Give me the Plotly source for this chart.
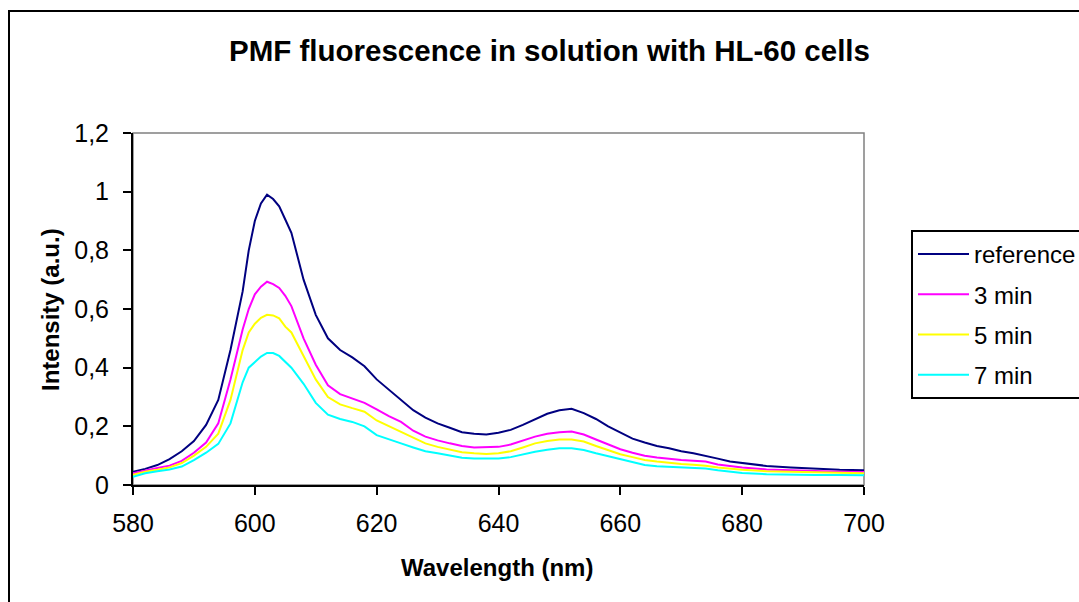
import plotly.graph_objects as go

wavelength = [580, 582, 584, 586, 588, 590, 592, 594, 596, 598, 599, 600, 601, 602, 603, 604, 605, 606,
              608, 610, 612, 614, 616, 618, 620, 622, 624, 626, 628, 630, 632, 634, 636, 638, 640, 642,
              644, 646, 648, 650, 652, 654, 656, 658, 660, 662, 664, 666, 668, 670, 672, 674, 676, 678,
              680, 684, 688, 692, 696, 700]

reference = [.045, .055, .068, .088, .115, .15, .205, .29, .46, .66, .80, .90, .96, .99, .975, .95, .905, .86,
             .70, .58, .50, .46, .435, .405, .36, .325, .29, .255, .23, .21, .195, .18, .175, .172, .178, .188,
             .205, .225, .243, .255, .26, .245, .225, .20, .178, .158, .145, .133, .125, .115, .108, .10, .09, .08,
             .075, .065, .06, .055, .052, .05]

min3 = [.04, .05, .058, .066, .082, .11, .145, .21, .36, .53, .60, .65, .676, .693, .685, .672, .645, .61,
        .50, .41, .34, .31, .295, .28, .258, .235, .215, .185, .165, .152, .142, .133, .128, .128, .13, .138,
        .152, .165, .175, .18, .182, .172, .155, .138, .122, .11, .10, .094, .089, .085, .083, .08, .07, .065,
        .06, .053, .05, .047, .045, .044]

min5 = [.035, .045, .052, .06, .075, .10, .13, .175, .29, .46, .52, .55, .57, .58, .578, .568, .54, .52,
        .44, .36, .30, .275, .262, .25, .22, .20, .182, .16, .142, .13, .12, .112, .108, .106, .108, .115,
        .128, .142, .15, .155, .155, .148, .133, .12, .105, .095, .085, .08, .075, .072, .069, .066, .06, .055,
        .052, .047, .045, .043, .042, .04]

min7 = [.028, .04, .047, .053, .063, .085, .11, .14, .21, .35, .40, .42, .438, .45, .45, .44, .42, .40,
        .345, .28, .24, .225, .215, .20, .17, .155, .142, .128, .115, .108, .10, .093, .09, .089, .09, .095,
        .105, .113, .12, .125, .125, .119, .108, .098, .088, .077, .068, .064, .062, .06, .058, .056, .05, .045,
        .041, .037, .035, .034, .034, .033]

series_names = ["reference", "3 min", "5 min", "7 min"]
series_values = [reference, min3, min5, min7]
series_colors = ["#000080", "#FF00FF", "#FFFF00", "#00FFFF"]

FONT = "Arial, Liberation Sans, sans-serif"

fig = go.Figure()
for name, vals, col in zip(series_names, series_values, series_colors):
    fig.add_trace(go.Scatter(x=wavelength, y=vals, mode="lines", name=name,
                             legendgroup=name,
                             line=dict(color=col, width=2)))

# body margin is removed below, so page pixels == figure pixels
W, H = 1110, 602
L, T = 133, 133
pw, ph = 864 - 133, 485 - 133
R = W - L - pw
B = H - T - ph

def px_x(x):
    return (x - L) / pw

def px_y(y):
    return (H - B - y) / ph

fig.update_layout(
    width=W, height=H,
    margin=dict(l=L, r=R, t=T, b=B),
    paper_bgcolor="white", plot_bgcolor="white",
    separators=", ",
    font=dict(family=FONT, size=22, color="black"),
    title=dict(text="<b>PMF fluorescence in solution with HL-60 cells</b>",
               xref="container", yref="container",
               x=549.5 / W, y=1 - 51 / H, xanchor="center", yanchor="middle",
               font=dict(family=FONT, size=29.5, color="black")),
    showlegend=True,
    legend=dict(x=px_x(911), y=px_y(230), xanchor="left", yanchor="top",
                bordercolor="black", borderwidth=2, bgcolor="white",
                font=dict(family=FONT, size=24, color="black"),
                tracegroupgap=6, itemwidth=51),
    xaxis=dict(range=[580, 700], dtick=20, tick0=580, showgrid=False, zeroline=False,
               showline=True, linecolor="black", linewidth=2,
               ticks="outside", ticklen=8, tickwidth=2, tickcolor="black",
               ticklabelstandoff=7,
               tickfont=dict(family=FONT, size=25, color="black")),
    yaxis=dict(range=[0, 1.2], dtick=0.2, tick0=0, showgrid=False, zeroline=False,
               showline=True, linecolor="black", linewidth=2,
               ticks="outside", ticklen=8, tickwidth=2, tickcolor="black",
               ticklabelstandoff=9,
               tickfont=dict(family=FONT, size=25, color="black")),
    shapes=[
        dict(type="rect", xref="paper", yref="paper", x0=0, x1=1, y0=0, y1=1,
             line=dict(color="#808080", width=1.5), layer="below"),
        dict(type="rect", xref="paper", yref="paper",
             x0=px_x(9), x1=px_x(1300), y0=px_y(700), y1=px_y(11),
             line=dict(color="black", width=2), layer="below"),
    ],
    annotations=[
        dict(text="<b>Wavelength (nm)</b>", xref="paper", yref="paper",
             x=px_x(496.5), y=px_y(567), xanchor="center", yanchor="middle",
             showarrow=False, font=dict(family=FONT, size=24, color="black")),
        dict(text="<b>Intensity (a.u.)</b>", xref="paper", yref="paper",
             x=px_x(50), y=px_y(310), xanchor="center", yanchor="middle",
             textangle=-90, showarrow=False, font=dict(family=FONT, size=24, color="black")),
    ],
)

fig.write_html("out.html",
               config={"displayModeBar": False},
               post_script="document.body.style.margin='0';"
                           "document.body.style.overflow='hidden';"
                           "document.documentElement.style.overflow='hidden';")
